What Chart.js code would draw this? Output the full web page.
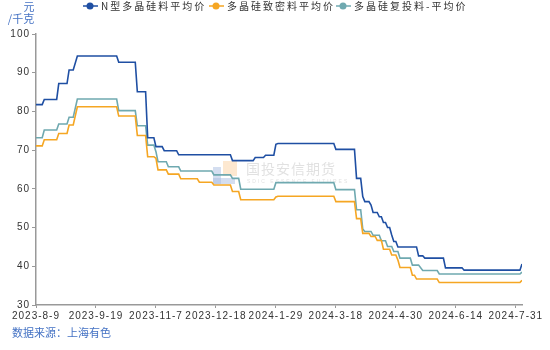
<!DOCTYPE html>
<html>
<head>
<meta charset="utf-8">
<script src="https://cdn.jsdelivr.net/npm/chart.js@4.4.1/dist/chart.umd.min.js"></script>
<style>
  html, body { margin: 0; padding: 0; background: #ffffff; }
  #wrap { width: 550px; height: 350px; position: relative; }
</style>
</head>
<body>
<div id="wrap"><canvas id="c" width="550" height="350"></canvas></div>
<script>
// Trading-day index of each tick and its date label
const tickDays = [0, 29, 58, 87, 116, 145, 174, 203, 232];
const tickDates = ['2023-8-9', '2023-9-19', '2023-11-7', '2023-12-18', '2024-1-29', '2024-3-18', '2024-4-30', '2024-6-14', '2024-7-31'];

const seriesNames = ['N型多晶硅料平均价', '多晶硅致密料平均价', '多晶硅复投料-平均价'];

// N型多晶硅料 (元/千克), price at each trading-day index where it moves
const nDays  = [0, 3, 4, 10, 11, 15, 16, 18, 20, 39, 40, 48, 49, 53, 54, 57, 58, 61, 62, 68, 69, 94, 95, 105, 106, 110, 111, 115, 116, 117, 144, 145, 154, 155, 157, 158, 159, 161, 162, 163, 165, 166, 167, 168, 169, 170, 171, 172, 173, 174, 175, 184, 185, 187, 188, 197, 198, 206, 207, 234, 235];
const nPrice = [81.75, 81.75, 83.1, 83.1, 87.2, 87.2, 90.7, 90.7, 94.3, 94.3, 92.7, 92.7, 85.1, 85.1, 73.2, 73.2, 70.9, 70.9, 69.85, 69.85, 68.8, 68.8, 67.3, 67.3, 68.1, 68.1, 68.7, 68.7, 71.5, 71.7, 71.7, 70.2, 70.2, 62.7, 62.7, 58.0, 56.7, 56.7, 55.8, 53.9, 53.9, 52.8, 52.8, 51.3, 51.3, 50.0, 50.0, 48.1, 46.4, 46.4, 45.0, 45.0, 42.7, 42.7, 42.1, 42.1, 39.6, 39.6, 39.0, 39.0, 40.6];

// 多晶硅致密料
const denseDays  = [0, 3, 4, 10, 11, 15, 16, 18, 20, 39, 40, 48, 49, 53, 54, 57, 58, 59, 63, 64, 69, 70, 78, 79, 85, 86, 94, 95, 98, 99, 115, 116, 117, 144, 145, 154, 155, 157, 158, 161, 162, 164, 165, 167, 168, 171, 172, 174, 175, 176, 181, 182, 183, 184, 194, 195, 234, 235];
const densePrice = [71.1, 71.1, 72.7, 72.7, 74.3, 74.3, 76.5, 76.5, 81.2, 81.2, 78.8, 78.8, 73.8, 73.8, 68.3, 68.3, 67.9, 64.9, 64.9, 63.8, 63.8, 62.6, 62.6, 61.7, 61.7, 61.0, 61.0, 59.3, 59.3, 57.2, 57.2, 57.9, 58.1, 58.1, 56.7, 56.7, 52.3, 52.3, 48.5, 48.5, 47.7, 47.7, 46.7, 46.7, 44.4, 44.4, 42.9, 42.9, 41.6, 39.7, 39.7, 37.7, 37.7, 36.7, 36.7, 35.8, 35.8, 36.4];

// 多晶硅复投料
const rechargeDays  = [0, 3, 4, 10, 11, 15, 16, 18, 20, 39, 40, 48, 49, 53, 54, 57, 58, 59, 63, 64, 69, 70, 85, 86, 94, 95, 98, 99, 115, 116, 144, 145, 154, 155, 157, 158, 159, 162, 163, 166, 167, 169, 170, 172, 173, 175, 176, 181, 182, 185, 187, 194, 195, 234, 235];
const rechargePrice = [73.2, 73.2, 75.2, 75.2, 76.75, 76.75, 78.5, 78.5, 83.2, 83.2, 80.2, 80.2, 76.3, 76.3, 71.3, 71.3, 69.6, 67.0, 67.0, 65.7, 65.7, 64.6, 64.6, 63.6, 63.6, 62.7, 62.7, 59.9, 59.9, 61.6, 61.6, 59.8, 59.8, 54.6, 54.6, 49.6, 49.0, 49.0, 48.0, 48.0, 46.6, 46.6, 45.1, 45.1, 43.8, 43.8, 42.1, 42.1, 40.3, 40.3, 38.9, 38.9, 38.0, 38.0, 38.5];

const colors = ['#1f4fa3', '#f5a623', '#6fa9b0'];
const pairUp = (xs, ys) => xs.map((x, i) => ({ x: x, y: ys[i] }));

const CJK = '"Noto Sans CJK SC", "Noto Sans", sans-serif';
const NUM = '"Liberation Sans", Arial, sans-serif';

// Legend drawn across the top: line-through-dot marker + spaced label
const topLegend = {
  id: 'topLegend',
  afterDraw(chart) {
    const ctx = chart.ctx;
    const starts = [83, 209, 336];
    ctx.save();
    chart.data.datasets.forEach((ds, i) => {
      const x0 = starts[i], y = 6;
      ctx.strokeStyle = ds.borderColor;
      ctx.lineWidth = 1.5;
      ctx.beginPath(); ctx.moveTo(x0, y); ctx.lineTo(x0 + 15, y); ctx.stroke();
      ctx.fillStyle = ds.borderColor;
      ctx.beginPath(); ctx.arc(x0 + 7, y, 3.5, 0, Math.PI * 2); ctx.fill();
      ctx.fillStyle = '#333333';
      ctx.font = '10px ' + CJK;
      ctx.letterSpacing = '2px';
      ctx.textBaseline = 'middle';
      ctx.textAlign = 'left';
      ctx.fillText(ds.label, x0 + 18, y + 0.5);
    });
    ctx.restore();
  }
};

// Unit label, source note and faint brand mark
const decorations = {
  id: 'decorations',
  beforeDraw(chart) {
    chart.ctx.letterSpacing = '1px';
  },
  beforeDatasetsDraw(chart) {
    const ctx = chart.ctx;
    ctx.save();
    ctx.letterSpacing = '0px';
    // brand mark
    ctx.fillStyle = 'rgba(250, 205, 150, 0.45)';
    ctx.fillRect(223, 161, 14, 15);
    ctx.fillStyle = 'rgba(170, 190, 225, 0.5)';
    ctx.fillRect(213, 167, 8, 17);
    ctx.fillRect(213, 178, 22, 6);
    ctx.fillStyle = 'rgba(205, 205, 205, 0.6)';
    ctx.font = '14px ' + CJK;
    ctx.textBaseline = 'middle';
    ctx.textAlign = 'left';
    ctx.letterSpacing = '1px';
    ctx.fillText('国投安信期货', 246, 169);
    ctx.font = '5px ' + NUM;
    ctx.letterSpacing = '2px';
    ctx.fillText('SDIC ESSENCE FUTURES', 247, 182);
    ctx.restore();
  },
  afterDraw(chart) {
    const ctx = chart.ctx;
    ctx.save();
    ctx.letterSpacing = '0px';
    ctx.fillStyle = '#4472c4';
    ctx.font = '11px ' + CJK;
    ctx.textBaseline = 'middle';
    ctx.textAlign = 'center';
    ctx.fillText('元', 29, 7);
    ctx.fillText('/千克', 21, 19);
    ctx.textAlign = 'left';
    ctx.fillText('数据来源：上海有色', 12, 333);
    ctx.restore();
  }
};

new Chart(document.getElementById('c'), {
  type: 'line',
  data: {
    datasets: [
      { label: seriesNames[0], data: pairUp(nDays, nPrice), borderColor: colors[0], backgroundColor: colors[0] },
      { label: seriesNames[1], data: pairUp(denseDays, densePrice), borderColor: colors[1], backgroundColor: colors[1] },
      { label: seriesNames[2], data: pairUp(rechargeDays, rechargePrice), borderColor: colors[2], backgroundColor: colors[2] }
    ]
  },
  options: {
    responsive: false,
    animation: false,
    elements: {
      line: { borderWidth: 1.6, tension: 0 },
      point: { radius: 0, hoverRadius: 0 }
    },
    layout: { padding: { left: 0, right: 28, top: 34, bottom: 25 } },
    plugins: { legend: { display: false }, tooltip: { enabled: false } },
    scales: {
      x: {
        type: 'linear',
        min: 0,
        max: 235,
        afterBuildTicks(axis) { axis.ticks = tickDays.map(v => ({ value: v })); },
        afterFit(axis) { axis.height = 20; },
        grid: { drawOnChartArea: false, drawTicks: true, tickLength: 3, color: '#999999' },
        border: { display: true, color: '#999999', width: 1.5 },
        ticks: {
          autoSkip: false,
          maxRotation: 0,
          padding: 2,
          color: '#333333',
          font: { family: NUM, size: 10 },
          callback(value) {
            const k = tickDays.indexOf(value);
            return k >= 0 ? tickDates[k] : '';
          }
        }
      },
      y: {
        min: 30,
        max: 100,
        afterFit(axis) { axis.width = 36; },
        grid: { drawOnChartArea: false, drawTicks: true, tickLength: 4, color: '#999999' },
        border: { display: true, color: '#999999', width: 1.5 },
        ticks: {
          stepSize: 10,
          padding: 2,
          color: '#333333',
          font: { family: NUM, size: 10 }
        }
      }
    }
  },
  plugins: [decorations, topLegend]
});
</script>
</body>
</html>
